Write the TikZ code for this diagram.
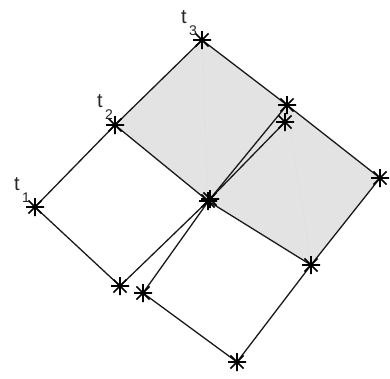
\documentclass[tikz,border=0pt]{standalone}
\usepackage{fontspec}
\setmainfont{Liberation Sans}
\newcommand{\tlab}[1]{t\kern2.3pt\raisebox{-12pt}{\fontsize{14}{14}\selectfont #1}}
\begin{document}
\begin{tikzpicture}[x=1pt,y=-1pt,
  edge/.style={draw=black!90,line width=1.3pt},
  faint/.style={draw=black!12,line width=0.6pt},
  shade/.style={fill=black!11},
  lbl/.style={font=\fontsize{20}{20}\selectfont,text=black!85,inner sep=0pt},
  starpic/.pic={\draw[line width=1.6pt,black] (-9,0)--(9,0) (0,-9)--(0,9) (-6.6,-6.6)--(6.6,6.6) (-6.6,6.6)--(6.6,-6.6);}]
\useasboundingbox (0,0) rectangle (390,378);
\coordinate (t1) at (35,207);
\coordinate (t2) at (115,125);
\coordinate (t3) at (202,40);
\coordinate (C) at (208,201);
\coordinate (Cb) at (210,199);
\coordinate (P1) at (287,105);
\coordinate (P2) at (285,122);
\coordinate (R) at (380,178);
\coordinate (S) at (311,265);
\coordinate (A) at (120,286);
\coordinate (B) at (143,293);
\coordinate (D) at (237,362);
% shaded patches
\path[shade] (t2) -- (t3) -- (P1) -- (C) -- cycle;
\path[shade] (C) -- (P1) -- (R) -- (S) -- cycle;
\draw[faint] (t3) -- (C);
\draw[faint] (P1) -- (S);
% edges
\draw[edge] (t1) -- (t2) -- (t3) -- (P1) -- (R) -- (S) -- (D) -- (B) -- (Cb) -- (P1);
\draw[edge] (t1) -- (A) -- (C) -- (P2);
\draw[edge] (t2) -- (C) -- (S);
% markers
\foreach \p in {t1,t2,t3,C,Cb,P1,P2,R,S,A,B,D} {\pic at (\p) {starpic};}
% labels
\node[lbl,anchor=base west] (l1) at (14,190) {\tlab{1}};
\node[lbl,anchor=base west] (l2) at (97,107) {\tlab{2}};
\node[lbl,anchor=base west] (l3) at (181,23) {\tlab{3}};
\end{tikzpicture}
\end{document}
